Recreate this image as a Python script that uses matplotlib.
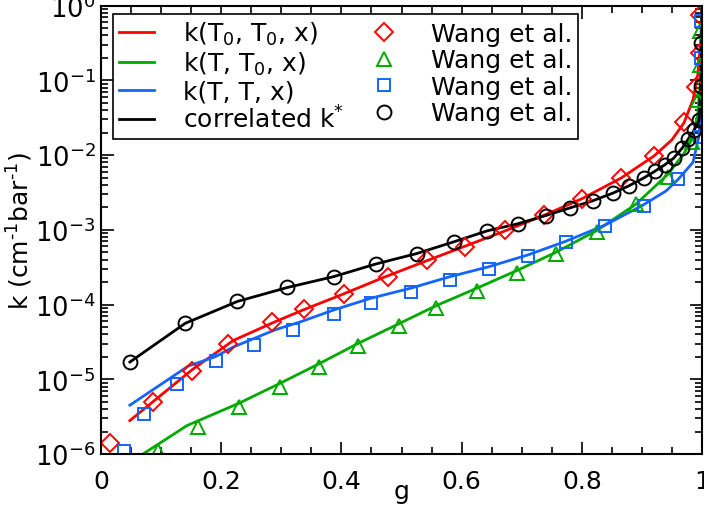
import numpy as np
import matplotlib
matplotlib.use("Agg")
import matplotlib.pyplot as plt
from matplotlib.ticker import FixedLocator, MultipleLocator, FuncFormatter

# model curves
g_red = [0.048, 0.152, 0.22, 0.29, 0.34, 0.40, 0.47, 0.54, 0.60, 0.67, 0.74, 0.80,
         0.865, 0.92, 0.95, 0.97, 0.985, 0.993, 0.998, 1.0]
k_red = [2.8e-6, 1.35e-5, 3.3e-5, 5.9e-5, 8.7e-5, 1.35e-4, 2.3e-4, 3.8e-4, 5.8e-4,
         9.5e-4, 1.6e-3, 2.6e-3, 4.9e-3, 9.7e-3, 1.6e-2, 2.7e-2, 5.5e-2, 0.12, 0.35, 1.0]

g_green = [0.048, 0.143, 0.23, 0.30, 0.362, 0.427, 0.495, 0.557, 0.625, 0.692, 0.757, 0.825,
           0.89, 0.943, 0.97, 0.983, 0.993, 0.998, 1.0]
k_green = [7.7e-7, 2.4e-6, 4.8e-6, 9.0e-6, 1.6e-5, 3.0e-5, 5.5e-5, 9.6e-5, 1.65e-4, 2.85e-4,
           5.0e-4, 9.8e-4, 2.2e-3, 5.5e-3, 1.05e-2, 1.6e-2, 3.5e-2, 0.12, 1.0]

g_blue = [0.048, 0.145, 0.19, 0.22, 0.29, 0.33, 0.39, 0.45, 0.515, 0.58, 0.645, 0.71,
          0.773, 0.838, 0.90, 0.94, 0.96, 0.985, 0.995, 0.999, 1.0]
k_blue = [4.5e-6, 1.5e-5, 2.0e-5, 2.7e-5, 4.6e-5, 5.8e-5, 8.6e-5, 1.22e-4, 1.65e-4,
          2.35e-4, 3.2e-4, 4.6e-4, 7.0e-4, 1.15e-3, 2.1e-3, 3.3e-3, 4.7e-3, 8.0e-3, 1.8e-2,
          6e-2, 1.0]

g_black = [0.048, 0.14, 0.227, 0.31, 0.387, 0.458, 0.525, 0.587, 0.643, 0.693, 0.74, 0.78,
           0.818, 0.852, 0.878, 0.903, 0.922, 0.938, 0.953, 0.967, 0.977, 0.987, 0.995,
           0.998, 0.9995, 1.0]
k_black = [1.7e-5, 5.6e-5, 1.1e-4, 1.69e-4, 2.36e-4, 3.5e-4, 4.8e-4, 6.9e-4, 9.7e-4, 1.2e-3,
           1.55e-3, 1.96e-3, 2.44e-3, 3.1e-3, 3.86e-3, 4.93e-3, 6.1e-3, 7.4e-3, 9.1e-3,
           1.24e-2, 1.63e-2, 2.15e-2, 2.9e-2, 0.1, 0.35, 1.0]

# Wang et al. data
wg_red = [0.015, 0.087, 0.152, 0.212, 0.285, 0.337, 0.405, 0.477, 0.542, 0.605, 0.672,
          0.737, 0.80, 0.865, 0.92, 0.97, 0.99, 0.997, 0.997]
wk_red = [1.4e-6, 4.9e-6, 1.28e-5, 3.0e-5, 5.75e-5, 8.6e-5, 1.4e-4, 2.36e-4, 3.9e-4, 5.9e-4,
          1.0e-3, 1.58e-3, 2.59e-3, 4.9e-3, 9.7e-3, 2.75e-2, 8.1e-2, 0.23, 0.74]

wg_green = [0.095, 0.162, 0.23, 0.297, 0.362, 0.427, 0.495, 0.557, 0.625, 0.692, 0.757,
            0.825, 0.89, 0.943, 0.983, 0.993, 0.997, 0.997]
wk_green = [1.1e-6, 2.3e-6, 4.2e-6, 7.8e-6, 1.45e-5, 2.75e-5, 5.1e-5, 9.1e-5, 1.54e-4,
            2.67e-4, 4.8e-4, 9.4e-4, 2.2e-3, 5.1e-3, 1.49e-2, 5.5e-2, 0.16, 0.46]

wg_blue = [0.038, 0.072, 0.127, 0.192, 0.255, 0.32, 0.387, 0.45, 0.515, 0.58, 0.645, 0.71,
           0.773, 0.838, 0.903, 0.96, 0.997, 0.998, 0.998]
wk_blue = [1.1e-6, 3.4e-6, 8.6e-6, 1.74e-5, 2.84e-5, 4.6e-5, 7.4e-5, 1.06e-4, 1.49e-4,
           2.15e-4, 3.0e-4, 4.5e-4, 6.9e-4, 1.13e-3, 2.09e-3, 4.8e-3, 1.74e-2, 0.2, 0.62]

wg_black = g_black[:23] + [0.998, 0.998]
wk_black = k_black[:23] + [0.085, 0.32]

RED = '#ff0000'
GREEN = '#00aa00'
BLUE = '#1464ff'
BLACK = '#000000'

plt.rcParams['font.family'] = ['DejaVu Sans']
plt.rcParams['mathtext.fontset'] = 'dejavusans'

fig = plt.figure(figsize=(7.04, 5.10), dpi=100)
ax = fig.add_axes([0.1435, 0.1078, 0.8537, 0.8794])

lw = 2.0
l1, = ax.plot(g_red, k_red, color=RED, lw=lw)
l2, = ax.plot(g_green, k_green, color=GREEN, lw=lw)
l3, = ax.plot(g_blue, k_blue, color=BLUE, lw=lw)
l4, = ax.plot(g_black, k_black, color=BLACK, lw=lw)

mew = 1.4
m1, = ax.plot(wg_red, wk_red, 'D', ms=9.3, mfc='none', mec=RED, mew=mew, ls='none')
m2, = ax.plot(wg_green, wk_green, '^', ms=10.5, mfc='none', mec=GREEN, mew=mew, ls='none')
m3, = ax.plot(wg_blue, wk_blue, 's', ms=9, mfc='none', mec=BLUE, mew=mew, ls='none')
m4, = ax.plot(wg_black, wk_black, 'o', ms=10, mfc='none', mec=BLACK, mew=mew, ls='none')

ax.set_yscale('log')
ax.set_xlim(0, 1)
ax.set_ylim(1e-6, 1.0)

ax.xaxis.set_major_locator(FixedLocator([0, 0.2, 0.4, 0.6, 0.8, 1.0]))
ax.xaxis.set_minor_locator(MultipleLocator(0.05))
ax.xaxis.set_major_formatter(FuncFormatter(lambda v, p: '%g' % v))

ax.tick_params(which='both', direction='in', top=True, right=True, width=1.2)
ax.tick_params(which='major', length=9)
ax.tick_params(which='minor', length=5)
ax.tick_params(axis='x', which='major', labelsize=18, pad=11)
ax.tick_params(axis='y', which='major', labelsize=18.5, pad=4)
for s in ax.spines.values():
    s.set_linewidth(1.5)

ax.set_xlabel('g', fontsize=18, labelpad=-10)
ax.set_ylabel('k (cm$^{\\text{-1}}$bar$^{\\text{-1}}$)', fontsize=18)
ax.yaxis.set_label_coords(-0.11, 0.5)

handles = [l1, m1, l2, m2, l3, m3, l4, m4]
labels = ['k(T$_\\mathregular{0}$, T$_\\mathregular{0}$, x)', 'Wang et al.',
          'k(T, T$_\\mathregular{0}$, x)', 'Wang et al.',
          'k(T, T, x)', 'Wang et al.',
          'correlated k$^{*}$', 'Wang et al.']
# reorder for column-major fill
order = [0, 2, 4, 6, 1, 3, 5, 7]
leg = ax.legend([handles[i] for i in order], [labels[i] for i in order], ncol=2,
                loc='upper left', bbox_to_anchor=(0.02, 0.982), fontsize=18,
                fancybox=False, framealpha=1, edgecolor='black', borderaxespad=0,
                handlelength=1.4, handletextpad=1.15, columnspacing=0.9,
                labelspacing=0.1, borderpad=0.25)
leg.get_frame().set_linewidth(1.2)

fig.savefig('out.png', dpi=100)
